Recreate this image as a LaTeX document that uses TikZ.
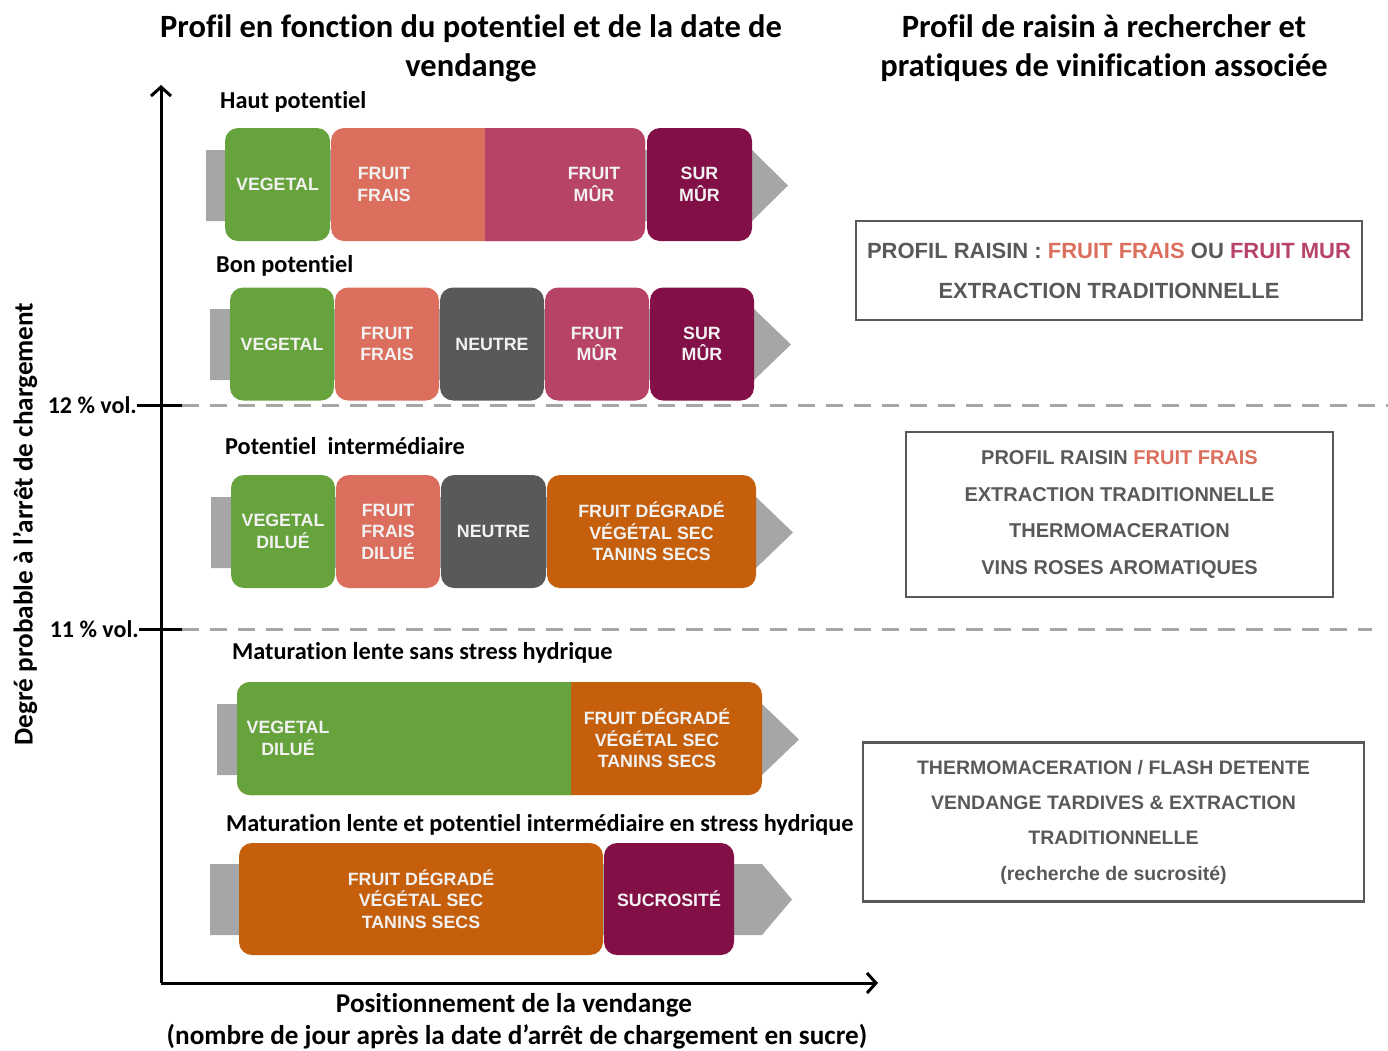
\documentclass[tikz,border=0pt]{standalone}
\usepackage{fontspec}
\setmainfont{Carlito}[Ligatures=NoCommon]
\newfontfamily\arialfont{Liberation Sans}
\usepackage{tikz}
\usetikzlibrary{arrows.meta,positioning}
\definecolor{cvert}{HTML}{67A33D}
\definecolor{cfrais}{HTML}{DB6E5C}
\definecolor{cneutre}{HTML}{595959}
\definecolor{cmur}{HTML}{B74367}
\definecolor{csurmur}{HTML}{821046}
\definecolor{cdegrade}{HTML}{C55F0B}
\definecolor{cfleche}{HTML}{A6A6A6}
\definecolor{ctexte}{HTML}{595959}
\tikzset{blk/.style={rounded corners=13pt,minimum height=113pt,inner sep=0pt,align=center,text=white!95!black,font=\arialfont\bfseries\fontsize{17.8}{21.5}\selectfont},
  txt/.style={inner sep=0pt,align=center,text=white!95!black,font=\arialfont\bfseries\fontsize{17.8}{21.5}\selectfont},
  lbl/.style={anchor=west,inner sep=0pt,font=\bfseries\fontsize{24.3}{28}\selectfont},
  titre/.style={align=center,inner sep=0pt,font=\bfseries\fontsize{32.5}{39}\selectfont},
  axelbl/.style={inner sep=0pt,font=\bfseries\fontsize{27.2}{30}\selectfont},
  seuillbl/.style={anchor=east,inner sep=0pt,font=\bfseries\fontsize{24}{28}\selectfont},
  cadre/.style={draw=ctexte,line width=2.5pt,inner sep=0pt,align=center,text=ctexte},
  fleche/.style={fill=cfleche},
  axe/.style={line width=3pt},
  seuil/.style={cfleche,line width=3pt,dash pattern=on 17pt off 11pt}}

\begin{document}
\begin{tikzpicture}[x=1pt,y=-1pt,>={Straight Barb[length=9pt,width=20pt]}]
    \useasboundingbox (0,0) rectangle (1388,1050);

    % titres
    \node[titre] (titreg) at (471,48) {Profil en fonction du potentiel et de la date de\\vendange};
    \node[titre] (titred) at (1104,48) {Profil de raisin à rechercher et\\pratiques de vinification associée};

    % axes
    \coordinate (origine) at (161,983);
    \coordinate (ymax) at (161,85);
    \coordinate (xmax) at (878,983);
    \draw[axe,->] (origine) -- (ymax);
    \draw[axe,->] (origine) -- (xmax);
    \node[axelbl,rotate=90] (degre) at (25,524) {Degré probable à l’arrêt de chargement};
    \node[axelbl] (posit) at (514,1005) {Positionnement de la vendange};
    \node[axelbl] (nbjour) at (517,1037) {(nombre de jour après la date d’arrêt de chargement en sucre)};

    % seuils
    \node[seuillbl] (v12) at (137,405) {12 \% vol.};
    \node[seuillbl] (v11) at (139,629) {11 \% vol.};
    \coordinate (d12) at (182,405);
    \coordinate (f12) at (1388,405);
    \coordinate (d11) at (182,629);
    \coordinate (f11) at (1372,629);
    \draw[axe] (v12.east) -- (d12);
    \draw[axe] (v11.east) -- (d11);
    \draw[seuil] (d12) -- (f12);
    \draw[seuil] (d11) -- (f11);

    % haut potentiel
    \node[lbl] (haut) at (220,102) {Haut potentiel};
    \fill[fleche] (206,150) -- (752,150) -- (788,185.5) -- (752,221) -- (206,221) -- cycle;
    \node[blk,fill=cvert,minimum width=105pt] (veg1) at (277.5,184.5) {VEGETAL};
    \fill[cfrais,rounded corners=13pt] (331,128) rectangle (645,241);
    \begin{scope}
        \clip (485,120) rectangle (650,250);
        \fill[cmur,rounded corners=13pt] (331,128) rectangle (645,241);
    \end{scope}
    \node[txt] (frais1) at (384,184.5) {FRUIT\\FRAIS};
    \node[txt] (mur1) at (594,184.5) {FRUIT\\MÛR};
    \node[blk,fill=csurmur,minimum width=105pt] (sur1) at (699.5,184.5) {SUR\\MÛR};

    % bon potentiel
    \node[lbl] (bon) at (216,266) {Bon potentiel};
    \fill[fleche] (210,309) -- (754,309) -- (791,344.5) -- (754,380) -- (210,380) -- cycle;
    \node[blk,fill=cvert,minimum width=104pt] (veg2) at (282,344) {VEGETAL};
    \node[blk,fill=cfrais,minimum width=104pt] (frais2) at (387,344) {FRUIT\\FRAIS};
    \node[blk,fill=cneutre,minimum width=104pt] (neutre2) at (492,344) {NEUTRE};
    \node[blk,fill=cmur,minimum width=104pt] (mur2) at (597,344) {FRUIT\\MÛR};
    \node[blk,fill=csurmur,minimum width=104pt] (sur2) at (702,344) {SUR\\MÛR};

    % potentiel intermediaire
    \node[lbl] (inter) at (225,446) {Potentiel\ \ intermédiaire};
    \fill[fleche] (211,497) -- (756,497) -- (793,532.5) -- (756,568) -- (211,568) -- cycle;
    \node[blk,fill=cvert,minimum width=104pt] (veg3) at (283,531.5) {VEGETAL\\DILUÉ};
    \node[blk,fill=cfrais,minimum width=104pt] (frais3) at (388,531.5) {FRUIT\\FRAIS\\DILUÉ};
    \node[blk,fill=cneutre,minimum width=105pt] (neutre3) at (493.5,531.5) {NEUTRE};
    \node[blk,fill=cdegrade,minimum width=209pt] (deg3) at (651.5,531.5) {FRUIT DÉGRADÉ\\VÉGÉTAL SEC\\TANINS SECS};

    % sans stress hydrique
    \node[lbl] (sans) at (232,653) {Maturation lente sans stress hydrique};
    \fill[fleche] (217,704) -- (762,704) -- (799,739.5) -- (762,775) -- (217,775) -- cycle;
    \fill[cdegrade,rounded corners=13pt] (237,682) rectangle (762,795);
    \begin{scope}
        \clip (230,670) rectangle (571,805);
        \fill[cvert,rounded corners=13pt] (237,682) rectangle (762,795);
    \end{scope}
    \node[txt] (veg4) at (288,738.5) {VEGETAL\\DILUÉ};
    \node[txt] (deg4) at (657,738.5) {FRUIT DÉGRADÉ\\VÉGÉTAL SEC\\TANINS SECS};

    % stress hydrique
    \node[lbl] (stress) at (226,825) {Maturation lente et potentiel intermédiaire en stress hydrique};
    \fill[fleche] (210,864) -- (762,864) -- (792,899.5) -- (762,935) -- (210,935) -- cycle;
    \node[blk,fill=cdegrade,minimum width=364pt,minimum height=112pt] (deg5) at (421,899) {FRUIT DÉGRADÉ\\VÉGÉTAL SEC\\TANINS SECS};
    \node[blk,fill=csurmur,minimum width=130pt,minimum height=112pt] (sucre5) at (669,899) {SUCROSITÉ};

    % pratiques de vinification
    \node[cadre,minimum width=506pt,minimum height=99pt,font=\arialfont\bfseries\fontsize{22}{40}\selectfont] (prat1) at (1109,270.5)
        {PROFIL RAISIN : {\color{cfrais}FRUIT FRAIS} OU {\color{cmur}FRUIT MUR}\\EXTRACTION TRADITIONNELLE};
    \node[cadre,minimum width=427pt,minimum height=165pt,font=\arialfont\bfseries\fontsize{20}{36.7}\selectfont] (prat2) at (1119.5,514.5)
        {PROFIL RAISIN {\color{cfrais}FRUIT FRAIS}\\EXTRACTION TRADITIONNELLE\\THERMOMACERATION\\VINS ROSES AROMATIQUES};
    \node[cadre,minimum width=501pt,minimum height=159pt,font=\arialfont\bfseries\fontsize{19.5}{35.3}\selectfont] (prat3) at (1113.5,822)
        {THERMOMACERATION / FLASH DETENTE\\VENDANGE TARDIVES \& EXTRACTION\\TRADITIONNELLE\\(recherche de sucrosité)};

\end{tikzpicture}
\end{document}
